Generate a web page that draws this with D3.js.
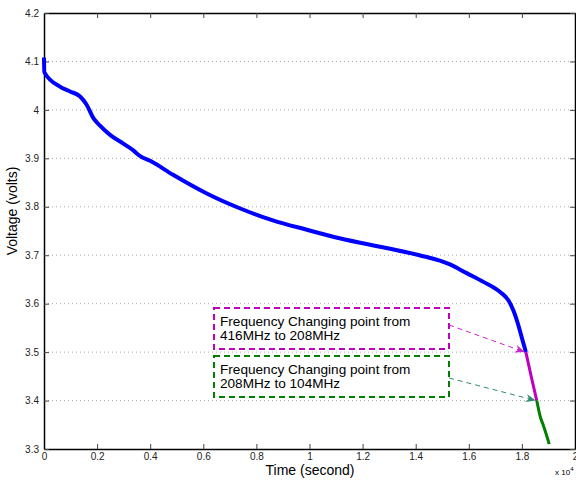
<!DOCTYPE html>
<html>
<head>
<meta charset="utf-8">
<script src="https://cdn.jsdelivr.net/npm/d3@7"></script>
<style>
  body { margin: 0; background: #fff; }
  text { font-family: "Liberation Sans", Arial, Helvetica, sans-serif; }
</style>
</head>
<body>
<div class="vis-chart"></div>
<script>
// time in seconds, voltage in volts
const blueTime = [0, 10, 600, 980, 1350, 1600, 1860, 2100, 2500, 3000, 3350, 3610, 4000, 4860, 6110, 7370, 8620, 9870, 11130, 12890, 14140, 15290, 15920, 16550, 17180, 17490, 17680, 17870, 18000, 18150];
const blueVolt = [4.108, 4.078, 4.048, 4.038, 4.028, 4.011, 3.983, 3.968, 3.948, 3.93, 3.917, 3.905, 3.895, 3.866, 3.828, 3.797, 3.772, 3.753, 3.735, 3.715, 3.70, 3.681, 3.663, 3.645, 3.624, 3.607, 3.586, 3.555, 3.529, 3.50];
const magentaTime = [18150, 18350, 18560];
const magentaVolt = [3.50, 3.45, 3.40];
const greenTime = [18560, 18700, 18800, 19030];
const greenVolt = [3.40, 3.365, 3.35, 3.31];

const xTicks = [0, 2000, 4000, 6000, 8000, 10000, 12000, 14000, 16000, 18000, 20000];
const yTicks = [3.3, 3.4, 3.5, 3.6, 3.7, 3.8, 3.9, 4.0, 4.1, 4.2];

const notes = [
  { lines: ["Frequency Changing point from", "416MHz to 208MHz"], color: "#bf00bf", arrowColor: "#cc22cc",
    box: [214, 308, 449, 349], from: [449, 325], at: [18150, 3.50] },
  { lines: ["Frequency Changing point from", "208MHz to 104MHz"], color: "#008000", arrowColor: "#2e8b6e",
    box: [214, 356, 449, 397], from: [449, 378], at: [18560, 3.40] }
];

const width = 576, height = 482;
const plot = { left: 44, right: 575, top: 13, bottom: 449 };

const svg = d3.select('.vis-chart').append('svg')
  .attr('width', width)
  .attr('height', height);

const xScale = d3.scaleLinear().domain([0, 20000]).range([plot.left, plot.right]);
const yScale = d3.scaleLinear().domain([3.3, 4.2]).range([plot.bottom, plot.top]);

/* grid lines */
svg.append('g').selectAll('line')
  .data(yTicks.slice(1, -1))
  .enter().append('line')
  .attr('x1', plot.left).attr('x2', plot.right)
  .attr('y1', d => yScale(d)).attr('y2', d => yScale(d))
  .attr('stroke', '#aaa')
  .attr('stroke-width', 1)
  .attr('stroke-dasharray', '1,3');

/* axes */
const fmtX = d => d3.format('')(+(d / 10000).toFixed(1));
const fmtY = d => d3.format('')(+d.toFixed(1));

svg.append('g')
  .attr('transform', 'translate(0,' + plot.bottom + ')')
  .call(d3.axisBottom(xScale).tickValues(xTicks).tickFormat(fmtX).tickSizeInner(-5).tickSizeOuter(0).tickPadding(4))
  .call(g => g.select('.domain').attr('stroke-width', 1.5));
svg.append('g')
  .attr('transform', 'translate(0,' + plot.top + ')')
  .call(d3.axisTop(xScale).tickValues(xTicks).tickFormat('').tickSizeInner(-5).tickSizeOuter(0))
  .call(g => g.select('.domain').attr('stroke-width', 1.5));
svg.append('g')
  .attr('transform', 'translate(' + plot.left + ',0)')
  .call(d3.axisLeft(yScale).tickValues(yTicks).tickFormat(fmtY).tickSizeInner(-5).tickSizeOuter(0).tickPadding(5))
  .call(g => g.select('.domain').attr('stroke-width', 1.5));
svg.append('g')
  .attr('transform', 'translate(' + plot.right + ',0)')
  .call(d3.axisRight(yScale).tickValues(yTicks).tickFormat('').tickSizeInner(-5).tickSizeOuter(0))
  .call(g => g.select('.domain').attr('stroke-width', 1.5));

svg.selectAll('.tick text')
  .style('font-size', '10px')
  .style('font-family', '"Liberation Sans", Arial, sans-serif')
  .attr('fill', '#222');
svg.selectAll('.tick line').attr('stroke', '#444');

/* axis labels */
svg.append('text')
  .attr('text-anchor', 'middle')
  .attr('x', 310).attr('y', 475)
  .style('font-size', '14px')
  .text('Time (second)');
svg.append('text')
  .attr('text-anchor', 'middle')
  .attr('transform', 'translate(17,211)rotate(-90)')
  .style('font-size', '14px')
  .text('Voltage (volts)');
const mult = svg.append('text')
  .attr('x', 555).attr('y', 475)
  .style('font-size', '8px');
mult.append('tspan').text('x 10');
mult.append('tspan').attr('dy', -4).style('font-size', '6px').text('4');

/* curves */
const line = d3.line().curve(d3.curveMonotoneX).x(d => xScale(d[0])).y(d => yScale(d[1]));
const series = [
  { t: blueTime, v: blueVolt, color: '#0000ff', w: 4 },
  { t: magentaTime, v: magentaVolt, color: '#bf00bf', w: 3 },
  { t: greenTime, v: greenVolt, color: '#008000', w: 3 }
];
series.forEach(s => {
  svg.append('path')
    .datum(d3.zip(s.t, s.v))
    .attr('d', line)
    .attr('fill', 'none')
    .attr('stroke', s.color)
    .attr('stroke-width', s.w)
    .attr('stroke-linejoin', 'round');
});

/* annotations */
const defs = svg.append('defs');
notes.forEach((n, i) => {
  defs.append('marker')
    .attr('id', 'arrow' + i)
    .attr('viewBox', '0 0 10 10')
    .attr('refX', 10).attr('refY', 5)
    .attr('markerWidth', 10).attr('markerHeight', 10)
    .attr('markerUnits', 'userSpaceOnUse')
    .attr('orient', 'auto')
    .append('path')
    .attr('d', 'M0,1 L10,5 L0,9 L3,5 Z')
    .attr('fill', n.arrowColor);

  svg.append('rect')
    .attr('x', n.box[0]).attr('y', n.box[1])
    .attr('width', n.box[2] - n.box[0]).attr('height', n.box[3] - n.box[1])
    .attr('fill', 'white')
    .attr('stroke', n.color)
    .attr('stroke-width', 2)
    .attr('stroke-dasharray', '6,4');

  n.lines.forEach((l, j) => {
    svg.append('text')
      .attr('x', n.box[0] + 6)
      .attr('y', n.box[1] + 17.5 + j * 14.5)
      .style('font-size', '13.6px')
      .text(l);
  });

  svg.append('line')
    .attr('x1', n.from[0]).attr('y1', n.from[1])
    .attr('x2', xScale(n.at[0]) - 1).attr('y2', yScale(n.at[1]))
    .attr('stroke', n.arrowColor)
    .attr('stroke-width', 1)
    .attr('stroke-dasharray', '5,4')
    .attr('marker-end', 'url(#arrow' + i + ')');
});
</script>
</body>
</html>
